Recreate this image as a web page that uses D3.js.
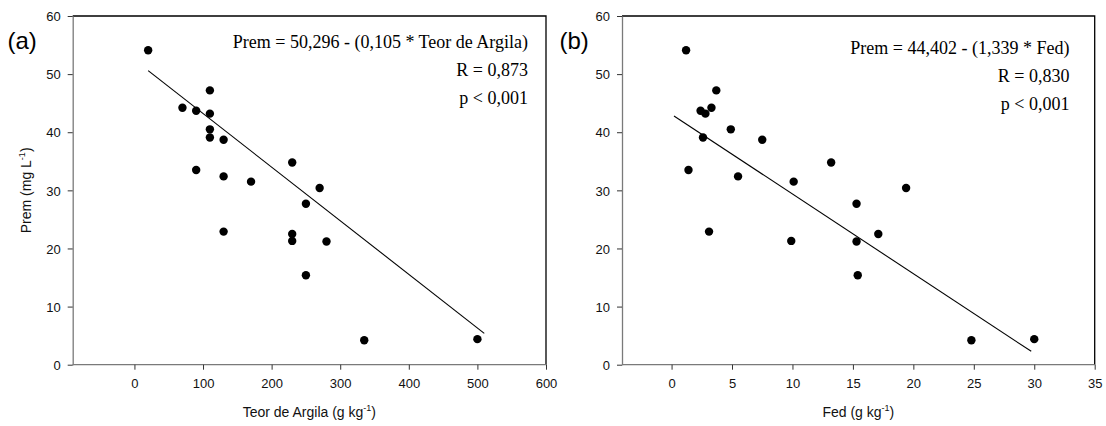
<!DOCTYPE html>
<html>
<head>
<meta charset="utf-8">
<script src="https://cdn.jsdelivr.net/npm/d3@7"></script>
<style>
  html, body { margin: 0; padding: 0; background: #fff; }
  svg { display: block; }
  .tick text { font-family: "Liberation Sans", Arial, sans-serif; font-size: 13px; fill: #111; }
</style>
</head>
<body>
<svg id="chart" width="1106" height="426"></svg>
<script>
// Phosphorus remaining (Prem, mg L-1) per soil sample
const prem = [54.1, 44.2, 43.7, 47.2, 43.2, 40.5, 39.1, 38.7, 33.5, 32.4, 31.5,
              22.9, 34.8, 30.4, 27.7, 22.5, 21.3, 21.2, 15.4, 4.2, 4.4];
// Clay content (g kg-1)
const argila = [20, 70, 90, 110, 110, 110, 110, 130, 90, 130, 170,
                130, 230, 270, 250, 230, 230, 280, 250, 335, 500];
// Prem for the Fed panel
const premFed = [54.1, 47.2, 43.7, 44.2, 43.2, 40.5, 39.1, 38.7, 33.5, 32.4, 31.5,
                 22.9, 34.8, 30.4, 27.7, 22.5, 21.3, 21.2, 15.4, 4.2, 4.4];
// Dithionite-extractable iron, Fed (g kg-1)
const fed = [1.2, 3.7, 2.4, 3.3, 2.8, 4.9, 2.6, 7.5, 1.4, 5.5, 10.1,
             3.1, 13.2, 19.4, 15.3, 17.1, 9.9, 15.3, 15.4, 24.8, 30.0];

// Regression line end points
const fitArgilaX = [20, 510];
const fitArgilaY = [50.6, 5.4];
const fitFedX = [0.2, 29.75];
const fitFedY = [42.8, 2.3];

// Annotation text
const eqArgila = ["Prem = 50,296 - (0,105 * Teor de Argila)", "R = 0,873", "p < 0,001"];
const eqFed = ["Prem = 44,402 - (1,339 * Fed)", "R = 0,830", "p < 0,001"];

const yTicks = [0, 10, 20, 30, 40, 50, 60];
const xTicksArgila = [0, 100, 200, 300, 400, 500, 600];
const xTicksFed = [0, 5, 10, 15, 20, 25, 30, 35];

const svg = d3.select("#chart");
const sans = "'Liberation Sans', Arial, sans-serif";
const serif = "'Liberation Serif', 'Times New Roman', serif";
const axisGrey = "#7a7a7a";

const plotTop = 16, plotBottom = 364.7;
const y = d3.scaleLinear().domain([0, 60]).range([plotBottom, plotTop]);

function panel(opts) {
  const x = d3.scaleLinear().domain(opts.xDomain).range(opts.xRange);
  const g = svg.append("g");
  const [x0, x1] = opts.xRange;

  // frame (top and right)
  g.append("path")
    .attr("d", `M${x0},${plotTop}H${x1}V${plotBottom}`)
    .attr("fill", "none").attr("stroke", "#000").attr("stroke-width", 1.3);

  // x axis
  const xa = g.append("g").attr("transform", `translate(0,${plotBottom})`)
    .call(d3.axisBottom(x).tickValues(opts.xTicks).tickSize(5).tickPadding(9).tickSizeOuter(0));
  xa.select(".domain").attr("stroke", axisGrey).attr("stroke-width", 1.3)
    .attr("d", `M${x0},0H${x1}`);
  xa.selectAll(".tick line").attr("stroke", "#333");

  // y axis
  const ya = g.append("g").attr("transform", `translate(${x0},0)`)
    .call(d3.axisLeft(y).tickValues(yTicks).tickSize(5).tickPadding(7).tickSizeOuter(0));
  ya.select(".domain").attr("stroke", axisGrey).attr("stroke-width", 1.3);
  ya.selectAll(".tick line").attr("stroke", "#333");
  ya.selectAll(".tick text").attr("dy", "0.36em");

  // regression line
  g.append("line")
    .attr("x1", x(opts.fitX[0])).attr("y1", y(opts.fitY[0]))
    .attr("x2", x(opts.fitX[1])).attr("y2", y(opts.fitY[1]))
    .attr("stroke", "#000").attr("stroke-width", 1.1);

  // points
  g.selectAll("circle").data(opts.xs).join("circle")
    .attr("cx", d => x(d))
    .attr("cy", (d, i) => y(opts.ys[i]))
    .attr("r", 4.2)
    .attr("fill", "#000");

  // equation block
  g.selectAll("text.eq").data(opts.eq).join("text")
    .attr("class", "eq")
    .attr("x", opts.eqX)
    .attr("y", (d, i) => opts.eqY + i * 28)
    .attr("text-anchor", "end")
    .attr("font-family", serif)
    .attr("font-size", 18)
    .attr("fill", "#000")
    .text(d => d);

  // panel letter
  g.append("text")
    .attr("x", opts.letterX).attr("y", 49)
    .attr("font-family", sans).attr("font-size", 24).attr("fill", "#000")
    .text(opts.letter);

  // x title with superscript
  const xt = g.append("text")
    .attr("x", (x0 + x1) / 2).attr("y", 416.5)
    .attr("text-anchor", "middle")
    .attr("font-family", sans).attr("font-size", 14).attr("fill", "#111");
  xt.append("tspan").text(opts.xTitle + " (g kg");
  xt.append("tspan").attr("font-size", 9).attr("dy", -6).text("-1");
  xt.append("tspan").attr("dy", 6).text(")");

  return g;
}

panel({
  xDomain: [-90, 600], xRange: [72.7, 546], xTicks: xTicksArgila,
  xs: argila, ys: prem, fitX: fitArgilaX, fitY: fitArgilaY,
  eq: eqArgila, eqX: 528, eqY: 48, letter: "(a)", letterX: 7.5,
  xTitle: "Teor de Argila"
});

panel({
  xDomain: [-4.1, 35], xRange: [622, 1094.7], xTicks: xTicksFed,
  xs: fed, ys: premFed, fitX: fitFedX, fitY: fitFedY,
  eq: eqFed, eqX: 1069.5, eqY: 54, letter: "(b)", letterX: 559.5,
  xTitle: "Fed"
});

// y axis title (left panel only)
const yt = svg.append("text")
  .attr("transform", `translate(31,${(plotTop + plotBottom) / 2}) rotate(-90)`)
  .attr("text-anchor", "middle")
  .attr("font-family", sans).attr("font-size", 14).attr("fill", "#111");
yt.append("tspan").text("Prem (mg L");
yt.append("tspan").attr("font-size", 9).attr("dy", -6).text("-1");
yt.append("tspan").attr("dy", 6).text(")");
</script>
</body>
</html>
